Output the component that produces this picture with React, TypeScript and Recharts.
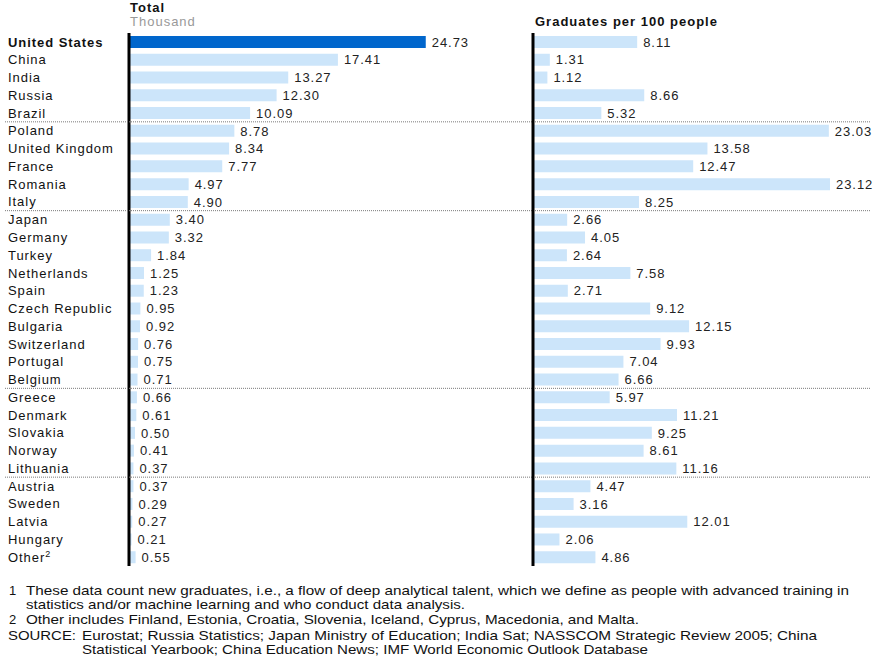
import React from 'react';
import { BarChart, Bar, XAxis, YAxis, Cell, LabelList, ReferenceLine } from 'recharts';

// ---------- data ----------
const countries = [
  'United States', 'China', 'India', 'Russia', 'Brazil',
  'Poland', 'United Kingdom', 'France', 'Romania', 'Italy',
  'Japan', 'Germany', 'Turkey', 'Netherlands', 'Spain',
  'Czech Republic', 'Bulgaria', 'Switzerland', 'Portugal', 'Belgium',
  'Greece', 'Denmark', 'Slovakia', 'Norway', 'Lithuania',
  'Austria', 'Sweden', 'Latvia', 'Hungary', 'Other',
];
const totalThousand = [
  24.73, 17.41, 13.27, 12.3, 10.09,
  8.78, 8.34, 7.77, 4.97, 4.9,
  3.4, 3.32, 1.84, 1.25, 1.23,
  0.95, 0.92, 0.76, 0.75, 0.71,
  0.66, 0.61, 0.5, 0.41, 0.37,
  0.37, 0.29, 0.27, 0.21, 0.55,
];
const graduatesPer100 = [
  8.11, 1.31, 1.12, 8.66, 5.32,
  23.03, 13.58, 12.47, 23.12, 8.25,
  2.66, 4.05, 2.64, 7.58, 2.71,
  9.12, 12.15, 9.93, 7.04, 6.66,
  5.97, 11.21, 9.25, 8.61, 11.16,
  4.47, 3.16, 12.01, 2.06, 4.86,
];
const groupStarts = ['Poland', 'Japan', 'Greece', 'Austria'];
const highlightCountry = 'United States';
const superscriptFor: Record<string, string> = { Other: '2' };

const leftTitle = 'Total';
const leftUnit = 'Thousand';
const rightTitle = 'Graduates per 100 people';

const footnoteLines = [
  { marker: '1', text: 'These data count new graduates, i.e., a flow of deep analytical talent, which we define as people with advanced training in' },
  { marker: '', text: 'statistics and/or machine learning and who conduct data analysis.' },
  { marker: '2', text: 'Other includes Finland, Estonia, Croatia, Slovenia, Iceland, Cyprus, Macedonia, and Malta.' },
  { marker: 'SOURCE:', text: 'Eurostat; Russia Statistics; Japan Ministry of Education; India Sat; NASSCOM Strategic Review 2005; China' },
  { marker: '', text: 'Statistical Yearbook; China Education News; IMF World Economic Outlook Database' },
];

// ---------- layout ----------
const W = 880;
const H = 659;
const PLOT_TOP = 33;
const PLOT_BOTTOM = 566;
const ROW_H = (PLOT_BOTTOM - PLOT_TOP) / countries.length;
const FONT = '"Liberation Sans", Arial, Helvetica, sans-serif';
const DARK_BLUE = '#0066cc';
const LIGHT_BLUE = '#cce5fa';

const rows = countries.map((country, i) => ({
  country,
  total: totalThousand[i],
  grads: graduatesPer100[i],
}));

const CountryTick = (props: any) => {
  const { y, payload } = props;
  const name: string = payload.value;
  const sep = groupStarts.includes(name);
  const sup = superscriptFor[name];
  const lineY = y - ROW_H / 2;
  return (
    <g>
      {sep && (
        <line x1={5} x2={870} y1={lineY} y2={lineY} stroke="#7a7a7a" strokeWidth={1} strokeDasharray="1 1" />
      )}
      <text
        x={8}
        y={y}
        dy="0.36em"
        fontFamily={FONT}
        fontSize={13}
        letterSpacing={0.95}
        fontWeight={name === highlightCountry ? 700 : 400}
        fill="#111"
      >
        {name}
        {sup && (
          <tspan dy={-5} fontSize={9}>
            {sup}
          </tspan>
        )}
      </text>
    </g>
  );
};

const ValueLabel = (props: any) => {
  const vb = props.viewBox && props.viewBox.width !== undefined ? props.viewBox : props;
  const { x, y, width, height } = vb;
  const value = props.value;
  if (x === undefined || value === undefined) return null;
  return (
    <text
      x={x + width + 6}
      y={y + height / 2}
      dy="0.36em"
      fontFamily={FONT}
      fontSize={13}
      letterSpacing={0.95}
      fill="#222"
    >
      {Number(value).toFixed(2)}
    </text>
  );
};

const LEFT_PLOT_X = 129;
const LEFT_PLOT_W = 360;
const RIGHT_PLOT_X = 533;
const RIGHT_PLOT_W = 334;

export default function App() {
  return (
    <div style={{ position: 'absolute', left: 0, top: 0, width: W, height: H, background: '#fff' }}>
      {/* Left panel: total, thousand */}
      <div style={{ position: 'absolute', left: 0, top: 0 }}>
        <BarChart
          width={W}
          height={H}
          data={rows}
          layout="vertical"
          margin={{ top: PLOT_TOP, bottom: H - PLOT_BOTTOM, left: 0, right: W - LEFT_PLOT_X - LEFT_PLOT_W }}
        >
          <XAxis type="number" domain={[0, 30]} hide />
          <YAxis
            type="category"
            dataKey="country"
            width={LEFT_PLOT_X}
            axisLine={false}
            tickLine={false}
            interval={0}
            tick={<CountryTick />}
          />
          <Bar dataKey="total" barSize={12} isAnimationActive={false}>
            {rows.map((r) => (
              <Cell key={r.country} fill={r.country === highlightCountry ? DARK_BLUE : LIGHT_BLUE} />
            ))}
            <LabelList dataKey="total" content={<ValueLabel />} />
          </Bar>
          <ReferenceLine x={0} stroke="#000" strokeWidth={3} ifOverflow="visible" />
        </BarChart>
      </div>

      {/* Right panel: graduates per 100 people */}
      <div style={{ position: 'absolute', left: 0, top: 0 }}>
        <BarChart
          width={W}
          height={H}
          data={rows}
          layout="vertical"
          margin={{ top: PLOT_TOP, bottom: H - PLOT_BOTTOM, left: RIGHT_PLOT_X, right: W - RIGHT_PLOT_X - RIGHT_PLOT_W }}
        >
          <XAxis type="number" domain={[0, 26]} hide />
          <YAxis type="category" dataKey="country" hide />
          <Bar dataKey="grads" barSize={12} fill={LIGHT_BLUE} isAnimationActive={false}>
            <LabelList dataKey="grads" content={<ValueLabel />} />
          </Bar>
          <ReferenceLine x={0} stroke="#000" strokeWidth={3} ifOverflow="visible" />
        </BarChart>
      </div>

      {/* Titles and footnotes */}
      <svg
        width={W}
        height={H}
        style={{ position: 'absolute', left: 0, top: 0, pointerEvents: 'none' }}
        fontFamily={FONT}
      >
        <text x={130} y={7} dy="0.36em" fontSize={13} fontWeight={700} letterSpacing={1} fill="#111">
          {leftTitle}
        </text>
        <text x={130} y={21} dy="0.36em" fontSize={13} letterSpacing={1} fill="#999">
          {leftUnit}
        </text>
        <text x={535} y={21} dy="0.36em" fontSize={13} fontWeight={700} letterSpacing={1} fill="#111">
          {rightTitle}
        </text>

        {/* footnotes */}
        <text x={9} y={590} dy="0.36em" fontSize={13} fill="#111">{footnoteLines[0].marker}</text>
        <text x={26} y={590} dy="0.36em" fontSize={13} fill="#111" textLength={823} lengthAdjust="spacingAndGlyphs">
          {footnoteLines[0].text}
        </text>
        <text x={26} y={604} dy="0.36em" fontSize={13} fill="#111" textLength={439} lengthAdjust="spacingAndGlyphs">
          {footnoteLines[1].text}
        </text>
        <text x={9} y={619} dy="0.36em" fontSize={13} fill="#111">{footnoteLines[2].marker}</text>
        <text x={26} y={619} dy="0.36em" fontSize={13} fill="#111" textLength={613} lengthAdjust="spacingAndGlyphs">
          {footnoteLines[2].text}
        </text>
        <text x={8} y={635} dy="0.36em" fontSize={13} fill="#111" textLength={68} lengthAdjust="spacingAndGlyphs">
          {footnoteLines[3].marker}
        </text>
        <text x={82} y={635} dy="0.36em" fontSize={13} fill="#111" textLength={735} lengthAdjust="spacingAndGlyphs">
          {footnoteLines[3].text}
        </text>
        <text x={82} y={649} dy="0.36em" fontSize={13} fill="#111" textLength={566} lengthAdjust="spacingAndGlyphs">
          {footnoteLines[4].text}
        </text>
      </svg>
    </div>
  );
}
